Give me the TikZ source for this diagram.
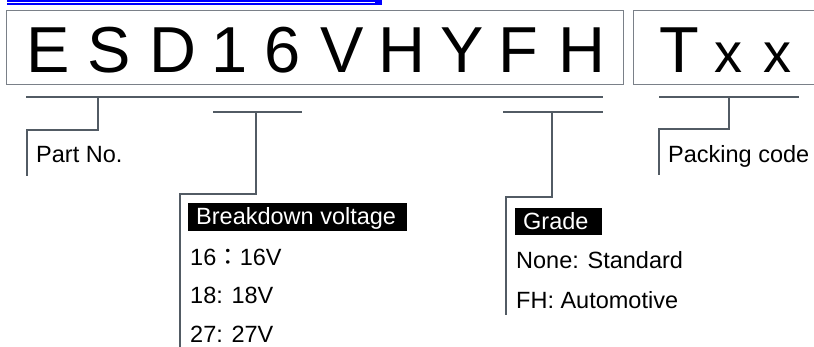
\documentclass[tikz,border=0pt]{standalone}
\usepackage{fontspec}
\setmainfont{Liberation Sans}
\newfontfamily\cjkfont{Noto Sans CJK JP}
\definecolor{lnc}{HTML}{525B64}
\definecolor{boxc}{HTML}{7A8088}
\definecolor{linkblue}{HTML}{0000FF}
\begin{document}
\begin{tikzpicture}[x=1pt,y=-1pt,
  big/.style={anchor=base,inner sep=0pt,font=\fontsize{65}{70}\selectfont},
  smallbig/.style={anchor=base,inner sep=0pt,font=\fontsize{56}{60}\selectfont},
  lbl/.style={anchor=base west,inner sep=0pt,font=\fontsize{23.5}{26}\selectfont},
  brk/.style={draw=lnc,line width=2pt},
  frame/.style={draw=boxc,line width=1pt}]
\useasboundingbox (0,0) rectangle (814,346);
\clip (0,0) rectangle (814,346);
% cut-off link bar at the top
\fill[linkblue] (7,0) rectangle (382,4.7);
\draw[white,line width=0.8pt] (7,2.3) -- (375,2.3);
% code boxes
\node[frame,minimum width=617pt,minimum height=74pt,anchor=north west,inner sep=0pt] (codebox) at (6,10) {};
\node[frame,minimum width=200pt,minimum height=74pt,anchor=north west,inner sep=0pt] (packbox) at (633,10) {};
% letters
\foreach \ch/\xx in {E/48,S/109,D/173,1/229.5,6/283,V/342,H/402,Y/462,F/518,H/582,T/679}
  \node[big] at (\xx,72) {\ch};
\foreach \xx in {728,777}
  \node[smallbig] at (\xx,72) {x};
% Part No. bracket
\coordinate (p1) at (26,97);
\coordinate (p2) at (603,97);
\coordinate (p3) at (98,97);
\coordinate (p4) at (98,130);
\coordinate (p5) at (27,130);
\coordinate (p6) at (27,176);
\draw[brk] (p1) -- (p2);
\draw[brk] (p3) -- (p4) -- (p5) -- (p6);
\node[lbl] (partno) at (36,162) {Part No.};
% Breakdown voltage bracket
\coordinate (b1) at (213,112);
\coordinate (b2) at (302,112);
\coordinate (b3) at (256,112);
\coordinate (b4) at (256,194);
\coordinate (b5) at (180,194);
\coordinate (b6) at (180,350);
\draw[brk] (b1) -- (b2);
\draw[brk] (b3) -- (b4) -- (b5) -- (b6);
\fill[black] (188,203) rectangle (407,231);
\node[lbl,text=white] (bv) at (196,224) {Breakdown voltage};
\node[lbl] (v16) at (190,265) {16{\cjkfont ：}16V};
\node[lbl] (v18) at (190,303) {18: 18V};
\node[lbl] (v27) at (190,342) {27: 27V};
% Grade bracket
\coordinate (g1) at (503,112);
\coordinate (g2) at (603,112);
\coordinate (g3) at (552,112);
\coordinate (g4) at (552,197);
\coordinate (g5) at (506,197);
\coordinate (g6) at (506,315);
\draw[brk] (g1) -- (g2);
\draw[brk] (g3) -- (g4) -- (g5) -- (g6);
\fill[black] (515,208) rectangle (602,235);
\node[lbl,text=white] (grade) at (523,229) {Grade};
\node[lbl] (gstd) at (516,268) {None: Standard};
\node[lbl] (gauto) at (516,308) {FH: Automotive};
% Packing code bracket
\coordinate (k1) at (659,97);
\coordinate (k2) at (799,97);
\coordinate (k3) at (729,97);
\coordinate (k4) at (729,129);
\coordinate (k5) at (659,129);
\coordinate (k6) at (659,175);
\draw[brk] (k1) -- (k2);
\draw[brk] (k3) -- (k4) -- (k5) -- (k6);
\node[lbl] (pack) at (668,162) {Packing code};
\end{tikzpicture}
\end{document}
